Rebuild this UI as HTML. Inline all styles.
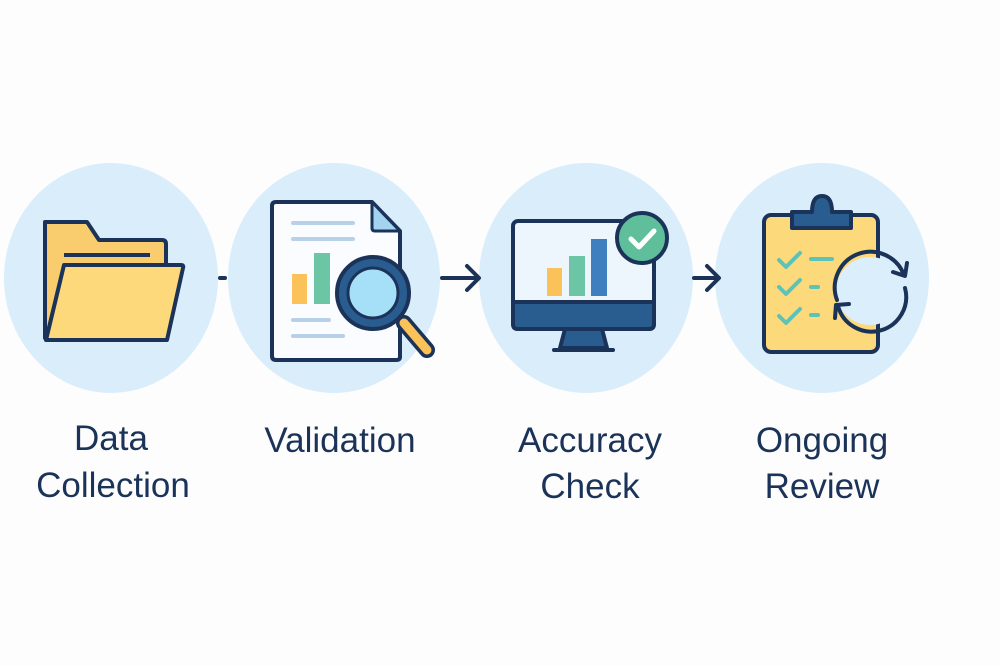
<!DOCTYPE html>
<html><head><meta charset="utf-8"><style>
html,body{margin:0;padding:0;background:#fdfdfd;}
svg{display:block}
text{font-family:"Liberation Sans",sans-serif;fill:#1b3358;font-size:35px;text-anchor:middle}
</style></head><body>
<svg width="1000" height="666" viewBox="0 0 1000 666">
<rect width="1000" height="666" fill="#fdfdfd"/>
<g fill="#d9edfb">
<ellipse cx="111" cy="278" rx="107" ry="115"/>
<ellipse cx="334" cy="278" rx="106" ry="115"/>
<ellipse cx="586" cy="278" rx="107" ry="115"/>
<ellipse cx="822" cy="278" rx="107" ry="115"/>
</g>
<g stroke="#1b3358" stroke-width="4" fill="none" stroke-linecap="round" stroke-linejoin="round">
<line x1="220" y1="278" x2="225" y2="278"/>
<line x1="442" y1="278" x2="478" y2="278"/><polyline points="467,266 479,278 467,290"/>
<line x1="694" y1="278" x2="718" y2="278"/><polyline points="707,266 719,278 707,290"/>
</g>
<!-- folder -->
<g stroke="#1b3358" stroke-width="4" stroke-linejoin="round">
<path d="M45 222 H87 L99 240 H162 Q166 240 166 244 V338 H45 Z" fill="#f9cd6e"/>
<line x1="64" y1="255" x2="150" y2="255" fill="none"/>
<path d="M64 265 H181 Q184 265 183 268 L167 340 H46 Z" fill="#fdd97b"/>
</g>
<!-- doc -->
<g stroke="#1b3358" stroke-width="4" stroke-linejoin="round">
<path d="M276 202 H372 L400 231 V357 Q400 360 396 360 H276 Q272 360 272 356 V206 Q272 202 276 202 Z" fill="#fafcff"/>
<path d="M372 202 V228 Q372 231 375 231 H400 Z" fill="#a4d3f2" stroke-width="3"/>
</g>
<g stroke="#b9d1e8" stroke-width="4" stroke-linecap="round">
<line x1="293" y1="223" x2="353" y2="223"/><line x1="293" y1="239" x2="353" y2="239"/>
<line x1="293" y1="320" x2="329" y2="320"/><line x1="293" y1="336" x2="343" y2="336"/>
</g>
<rect x="292" y="274" width="15" height="30" fill="#fbc25a"/>
<rect x="314" y="253" width="16" height="51" fill="#6cc6a6"/>
<line x1="404" y1="323" x2="427" y2="350" stroke="#1b3358" stroke-width="16" stroke-linecap="round"/>
<line x1="404" y1="323" x2="427" y2="350" stroke="#fbc25a" stroke-width="9" stroke-linecap="round"/>
<circle cx="373" cy="293" r="36" fill="#2a5d8f" stroke="#1b3358" stroke-width="4"/>
<circle cx="373" cy="293" r="25" fill="#a6dff8" stroke="#1b3358" stroke-width="3"/>
<!-- monitor -->
<g stroke="#1b3358" stroke-width="4" stroke-linejoin="round">
<path d="M565 329 H602 L607 348 H560 Z" fill="#2a5d8f"/>
<line x1="554" y1="350" x2="613" y2="350" stroke-linecap="round"/>
<rect x="513" y="221" width="141" height="108" rx="5" fill="#eef6fd"/>
<path d="M513 302 H654 V324 Q654 329 649 329 H518 Q513 329 513 324 Z" fill="#2a5d8f"/>
</g>
<rect x="547" y="268" width="15" height="28" fill="#fbc25a"/>
<rect x="569" y="256" width="16" height="40" fill="#6cc6a6"/>
<rect x="591" y="239" width="16" height="57" fill="#3f7fc0"/>
<circle cx="642" cy="238" r="25" fill="#5fbf9b" stroke="#1b3358" stroke-width="4"/>
<polyline points="631,239 639,247 654,231" fill="none" stroke="#fff" stroke-width="5" stroke-linecap="round" stroke-linejoin="round"/>
<!-- clipboard -->
<g stroke="#1b3358" stroke-width="4" stroke-linejoin="round">
<rect x="764" y="215" width="114" height="137" rx="7" fill="#fcd97a"/>
<path d="M792 212 H812 Q812 196 822 196 Q832 196 832 212 H851 V228 H792 Z" fill="#2a5d8f"/>
</g>
<g stroke="#5cc3b8" stroke-width="4" fill="none" stroke-linecap="round" stroke-linejoin="round">
<polyline points="779,260 786,267 800,253"/><line x1="811" y1="259" x2="832" y2="259"/>
<polyline points="779,287 786,294 800,280"/><line x1="811" y1="287" x2="818" y2="287"/>
<polyline points="779,316 786,323 800,309"/><line x1="811" y1="315" x2="818" y2="315"/>
</g>
<circle cx="870" cy="291" r="34" fill="#dbeefb"/>
<g stroke="#1b3358" stroke-width="4" fill="none" stroke-linecap="round" stroke-linejoin="round">
<path d="M837 300 A34 34 0 0 1 904 275"/>
<polyline points="893,272 905,276 907,263"/>
<path d="M905 288 A34 34 0 0 1 838 306"/>
<polyline points="849,304 836,305 835,318"/>
</g>
<text x="111" y="450">Data</text>
<text x="113" y="497">Collection</text>
<text x="340" y="452">Validation</text>
<text x="590" y="452">Accuracy</text>
<text x="590" y="498">Check</text>
<text x="822" y="452">Ongoing</text>
<text x="822" y="498">Review</text>
</svg>
</body></html>
